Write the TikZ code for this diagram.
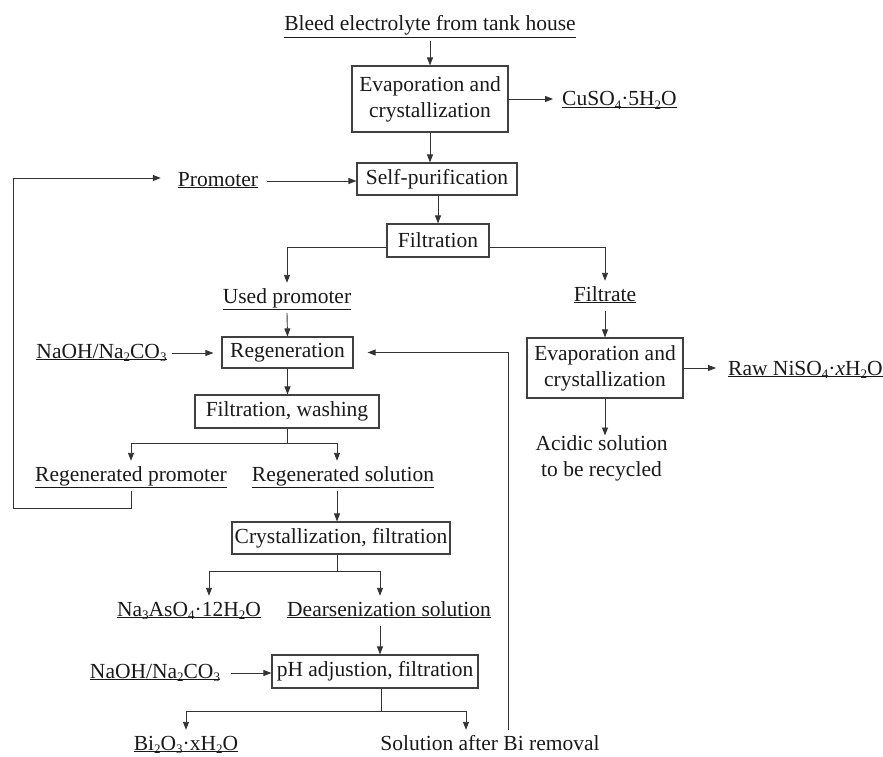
\documentclass[tikz,border=0pt]{standalone}
\usepackage{fontspec}
\setmainfont{Liberation Serif}
\usetikzlibrary{arrows.meta}
\newcommand{\sbs}[1]{\raisebox{-3.5pt}[0pt][0pt]{\fontsize{13}{13}\selectfont #1}}
\begin{document}
\begin{tikzpicture}[x=1pt,y=-1pt,
  every node/.style={font=\fontsize{21.5}{26}\selectfont, text=black!90},
  box/.style={draw=black!75, line width=1.1pt, inner sep=0pt, align=center},
  lbl/.style={inner xsep=5pt, inner ysep=5pt, text height=15pt, text depth=5pt, anchor=base},
  lblw/.style={lbl, anchor=base west},
  arr/.style={draw=black!80, line width=0.9pt, -{Triangle[length=8pt,width=6pt]}},
  ln/.style={draw=black!80, line width=0.9pt}
]
\useasboundingbox (0,0) rectangle (883,757);

% process boxes
\node[box, minimum width=156pt, minimum height=66pt] (ev1) at (430,99) {Evaporation and\\crystallization};
\node[box, minimum width=160pt, minimum height=32pt] (sp) at (437,179) {Self-purification};
\node[box, minimum width=102pt, minimum height=33pt] (filt) at (438,240.5) {Filtration};
\node[box, minimum width=156pt, minimum height=60pt] (ev2) at (605,368) {Evaporation and\\crystallization};
\node[box, minimum width=131pt, minimum height=31pt] (regen) at (287.5,352.5) {Regeneration};
\node[box, minimum width=184pt, minimum height=33pt] (fw) at (287,411.5) {Filtration, washing};
\node[box, minimum width=218pt, minimum height=32pt] (cf) at (341,538) {Crystallization, filtration};
\node[box, minimum width=206pt, minimum height=33pt] (ph) at (375,671.5) {pH adjustion, filtration};

% labels
\node[lbl] (bleed) at (430,31) {\underline{Bleed electrolyte from tank house}};
\node[lblw] (cuso) at (557,106) {\underline{CuSO\sbs{4}·5H\sbs{2}O}};
\node[lbl] (promoter) at (218,186) {\underline{Promoter}};
\node[lbl] (used) at (287,303) {\underline{Used promoter}};
\node[lbl] (filtrate) at (605,301) {\underline{Filtrate}};
\node[lblw] (raw) at (723,375) {\underline{Raw NiSO\sbs{4}·\textit{x}H\sbs{2}O}};
\node[inner sep=0pt, anchor=north, align=center] (acid) at (601.5,435.5) {Acidic solution\\to be recycled};
\node[lbl] (naoh1) at (101.5,358) {\underline{NaOH/Na\sbs{2}CO\sbs{3}}};
\node[lbl] (regprom) at (131,481) {\underline{Regenerated promoter}};
\node[lbl] (regsol) at (343,481) {\underline{Regenerated solution}};
\node[lbl] (na3) at (189,616) {\underline{Na\sbs{3}AsO\sbs{4}·12H\sbs{2}O}};
\node[lbl] (dears) at (389,616) {\underline{Dearsenization solution}};
\node[lbl] (naoh2) at (155,678) {\underline{NaOH/Na\sbs{2}CO\sbs{3}}};
\node[lbl] (bi) at (186,750) {\underline{Bi\sbs{2}O\sbs{3}·xH\sbs{2}O}};
\node[lbl] (sol) at (490,750) {Solution after Bi removal};

% helper coordinates
\coordinate (vx) at (508,0);
\coordinate (fwj) at (287,443);
\coordinate (cfj) at (337,571);
\coordinate (phj) at (381,711);
\coordinate (lb) at (13,508);
\coordinate (lt) at (13,178);

% connectors
\draw[arr] (bleed.south) -- (ev1.north);
\draw[arr, shorten >=4pt] (ev1.east) -- (ev1.east -| cuso.west);
\draw[arr] (ev1.south) -- (ev1.south |- sp.north);
\draw[arr, shorten <=4pt] (promoter.east) -- (promoter.east -| sp.west);
\draw[arr] (sp.south -| filt.north) -- (filt.north);
\draw[arr] ([yshift=-6.5pt]filt.west) -| (used.north);
\draw[arr] ([yshift=-6.5pt]filt.east) -| (filtrate.north);
\draw[arr] (filtrate.south) -- (ev2.north);
\draw[arr, shorten >=7pt] (ev2.east) -- (ev2.east -| raw.west);
\draw[arr] (ev2.south) -- (ev2.south |- acid.north);
\draw[arr] (used.south) -- (regen.north);
\draw[arr, shorten >=8pt] (naoh1.east) -- (naoh1.east -| regen.west);
\draw[arr, shorten >=14pt] (sol.north -| vx) |- (regen.east);
\draw[arr] (regen.south) -- (regen.south |- fw.north);
\draw[ln] (fw.south) -- (fwj);
\draw[arr] (fwj) -| (regprom.north);
\draw[arr] (fwj) -| ([xshift=-6pt]regsol.north);
\draw[arr, shorten >=12pt] (regprom.south) |- (lb) -- (lt) -- (lt -| promoter.west);
\draw[arr] ([xshift=-6pt]regsol.south) -- ([xshift=-6pt]regsol.south |- cf.north);
\draw[ln] (cfj |- cf.south) -- (cfj);
\draw[arr] (cfj) -| ([xshift=20pt]na3.north);
\draw[arr] (cfj) -| ([xshift=-9pt]dears.north);
\draw[arr] ([xshift=-9pt]dears.south) -- ([xshift=-9pt]dears.south |- ph.north);
\draw[arr, shorten <=6pt] (naoh2.east) -- (naoh2.east -| ph.west);
\draw[ln] (phj |- ph.south) -- (phj);
\draw[arr] (phj) -| (bi.north);
\draw[arr] (phj) -| ([xshift=-24pt]sol.north);
\end{tikzpicture}
\end{document}
